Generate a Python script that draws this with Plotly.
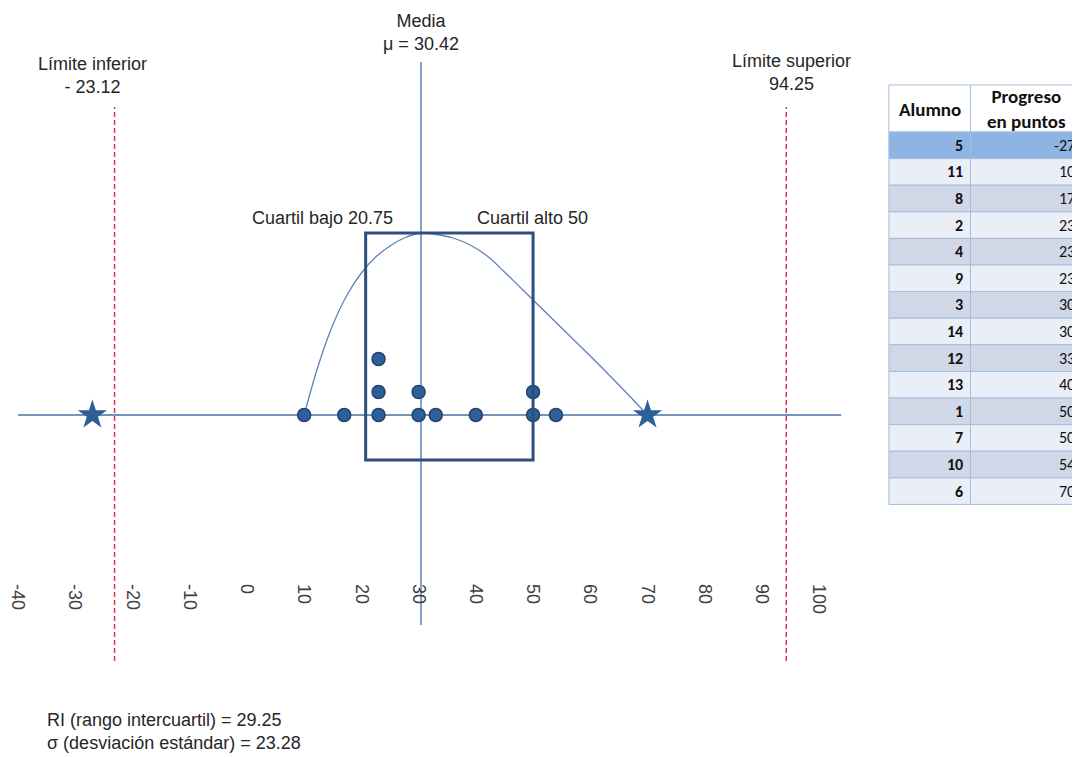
import plotly.graph_objects as go

# ---------------- data ----------------
alumnos = [5, 11, 8, 2, 4, 9, 3, 14, 12, 13, 1, 7, 10, 6]
progreso = [-27, 10, 17, 23, 23, 23, 30, 30, 33, 40, 50, 50, 54, 70]

media = 30.42
cuartil_bajo = 20.75
cuartil_alto = 50
limite_inferior = -23.12
limite_superior = 94.25
rango_ic = 29.25
desv_est = 23.28

x_ticks = list(range(-40, 101, 10))

# hand-drawn distribution curve (x value, relative height)
curva_x = [10, 12.5, 15, 17.5, 20, 22.5, 25, 27.5, 30.42, 33, 36, 39, 42, 45, 50, 55, 60, 65, 70]
curva_h = [0, 50, 90, 120, 142, 158, 169, 177, 182, 180.5, 177, 170, 159, 143, 115, 87, 59, 30, 0]

# ---------------- styling / layout constants ----------------
OFF = 8                      # page body margin of the html page
W, H = 1080 - OFF, 757 - OFF
FONT = "Liberation Sans, Arial, sans-serif"
TFONT = "Carlito, Lato, sans-serif"
TXT = "#262626"
BLUE_DARK = "#2d4f7f"
BLUE_DOT = "#2f5f98"
BLUE_LINE = "#5b84b5"
RED = "#e0304e"
STACK_OFFSETS = [0, 23, 56]
BOX_TOP, BOX_BOTTOM = 182, -45
AXIS_PX = 415               # window pixel row of the horizontal axis
PX_PER_UNIT = 5.75
ZERO_PX = 243


def px(p):
    return (p - OFF) / W


def py(p):
    return 1 - (p - OFF) / H


# stacking of dots
vmin, vmax = min(progreso), max(progreso)
dots_x, dots_y, seen = [], [], {}
for v in progreso:
    if v in (vmin, vmax):
        continue
    k = seen.get(v, 0)
    seen[v] = k + 1
    dots_x.append(v)
    dots_y.append(STACK_OFFSETS[min(k, len(STACK_OFFSETS) - 1)])

fig = go.Figure()

fig.add_trace(go.Scatter(x=curva_x, y=curva_h, mode="lines",
                         line=dict(color=BLUE_LINE, width=1.3, shape="spline", smoothing=1.0),
                         hoverinfo="skip", showlegend=False))
fig.add_trace(go.Scatter(x=dots_x, y=dots_y, mode="markers",
                         marker=dict(size=13, color=BLUE_DOT, line=dict(color="#1f4470", width=1.5)),
                         hoverinfo="skip", showlegend=False))
fig.add_trace(go.Scatter(x=[vmin, vmax], y=[0, 0], mode="markers",
                         marker=dict(symbol="star", size=22, color=BLUE_DOT, line=dict(width=0)),
                         hoverinfo="skip", showlegend=False))

shapes = []
shapes.append(dict(type="line", xref="paper", yref="y", x0=px(13), x1=px(840), y0=0, y1=0,
                   line=dict(color="#4a6fa5", width=1.5), layer="below"))
shapes.append(dict(type="line", xref="x", yref="paper", x0=media, x1=media, y0=py(625), y1=py(62),
                   line=dict(color=BLUE_LINE, width=1.5), layer="below"))
for lim in (limite_inferior, limite_superior):
    shapes.append(dict(type="line", xref="x", yref="paper", x0=lim, x1=lim, y0=py(661), y1=py(107),
                       line=dict(color=RED, width=1.5, dash="5px,3px"), layer="below"))
shapes.append(dict(type="rect", xref="x", yref="y", x0=cuartil_bajo, x1=cuartil_alto,
                   y0=BOX_BOTTOM, y1=BOX_TOP, line=dict(color=BLUE_DARK, width=3),
                   fillcolor="rgba(0,0,0,0)", layer="above"))

ann_font = dict(family=FONT, size=18, color=TXT)
annotations = [
    dict(text=f"Media<br>μ = {media:.2f}", x=media, xref="x", y=py(33), yref="paper",
         showarrow=False, font=ann_font, align="center", xanchor="center", yanchor="middle"),
    dict(text=f"Límite inferior<br>- {abs(limite_inferior):.2f}", x=px(88), xref="paper", y=py(76),
         yref="paper", showarrow=False, font=ann_font, align="center", xanchor="center", yanchor="middle"),
    dict(text=f"Límite superior<br>{limite_superior:.2f}", x=px(790), xref="paper", y=py(72),
         yref="paper", showarrow=False, font=ann_font, align="center", xanchor="center", yanchor="middle"),
    dict(text=f"Cuartil bajo {cuartil_bajo:.2f}", x=px(319), xref="paper", y=py(218), yref="paper",
         showarrow=False, font=ann_font, xanchor="center", yanchor="middle"),
    dict(text=f"Cuartil alto {cuartil_alto}", x=px(530), xref="paper", y=py(218), yref="paper",
         showarrow=False, font=ann_font, xanchor="center", yanchor="middle"),
    dict(text=f"RI (rango intercuartil) = {rango_ic:.2f}<br>σ (desviación estándar) = {desv_est:.2f}",
         x=px(40), xref="paper", y=py(731), yref="paper", showarrow=False, font=ann_font,
         align="left", xanchor="left", yanchor="middle"),
]

# ---------------- table (drawn with shapes + text) ----------------
T_LEFT, T_MID, T_RIGHT = 888, 970, 1090
T_TOP, T_HEAD_BOT, ROW_H = 85, 132, 26.6
GRID = "#a6bcdc"

shapes.append(dict(type="rect", xref="paper", yref="paper", x0=px(T_LEFT), x1=px(T_RIGHT),
                   y0=py(T_HEAD_BOT), y1=py(T_TOP), fillcolor="white",
                   line=dict(color=GRID, width=1), layer="above"))
for i, (a, p) in enumerate(zip(alumnos, progreso)):
    if i == 0:
        fill = "#8db4e2"
    elif i % 2 == 1:
        fill = "#e9eef7"
    else:
        fill = "#d0d8e8"
    top = T_HEAD_BOT + ROW_H * i
    bot = top + ROW_H
    for x0, x1 in ((T_LEFT, T_MID), (T_MID, T_RIGHT)):
        shapes.append(dict(type="rect", xref="paper", yref="paper", x0=px(x0), x1=px(x1),
                           y0=py(bot), y1=py(top), fillcolor=fill,
                           line=dict(color=GRID, width=1), layer="above"))
    mid = (top + bot) / 2
    annotations.append(dict(text=f"<b>{a}</b>", x=px(T_MID - 6), xref="paper", y=py(mid), yref="paper",
                            showarrow=False, xanchor="right", yanchor="middle",
                            font=dict(family=TFONT, size=16, color="#111111")))
    annotations.append(dict(text=str(p), x=px(1077), xref="paper", y=py(mid), yref="paper",
                            showarrow=False, xanchor="right", yanchor="middle",
                            font=dict(family=TFONT, size=16, color="#111111")))
shapes.append(dict(type="line", xref="paper", yref="paper", x0=px(T_MID), x1=px(T_MID),
                   y0=py(T_HEAD_BOT), y1=py(T_TOP), line=dict(color=GRID, width=1), layer="above"))
annotations.append(dict(text="<b>Alumno</b>", x=px((T_LEFT + T_MID) / 2), xref="paper", y=py(110),
                        yref="paper", showarrow=False, xanchor="center", yanchor="middle",
                        font=dict(family=TFONT, size=19, color="#111111")))
annotations.append(dict(text="<b>Progreso<br>en puntos</b>", x=px(1026), xref="paper", y=py(109),
                        yref="paper", showarrow=False, xanchor="center", yanchor="middle",
                        font=dict(family=TFONT, size=19, color="#111111")))

x_left = (OFF - ZERO_PX) / PX_PER_UNIT
x_right = (850 - ZERO_PX) / PX_PER_UNIT

fig.update_layout(
    width=W, height=H,
    margin=dict(l=0, r=0, t=0, b=0),
    paper_bgcolor="white", plot_bgcolor="white",
    showlegend=False, hovermode=False,
    shapes=shapes, annotations=annotations,
    xaxis=dict(domain=[0, px(850)], range=[x_left, x_right], anchor="free", position=py(583),
               showgrid=False, zeroline=False, showline=False, ticks="",
               tickmode="array", tickvals=x_ticks, ticktext=[str(t) for t in x_ticks],
               tickangle=90, ticklabeloverflow="allow",
               tickfont=dict(family=FONT, size=18, color="#404040"),
               fixedrange=True),
    yaxis=dict(domain=[0, 1], range=[AXIS_PX - 757, AXIS_PX - OFF], visible=False, fixedrange=True),
)

fig.write_html("out.html")
